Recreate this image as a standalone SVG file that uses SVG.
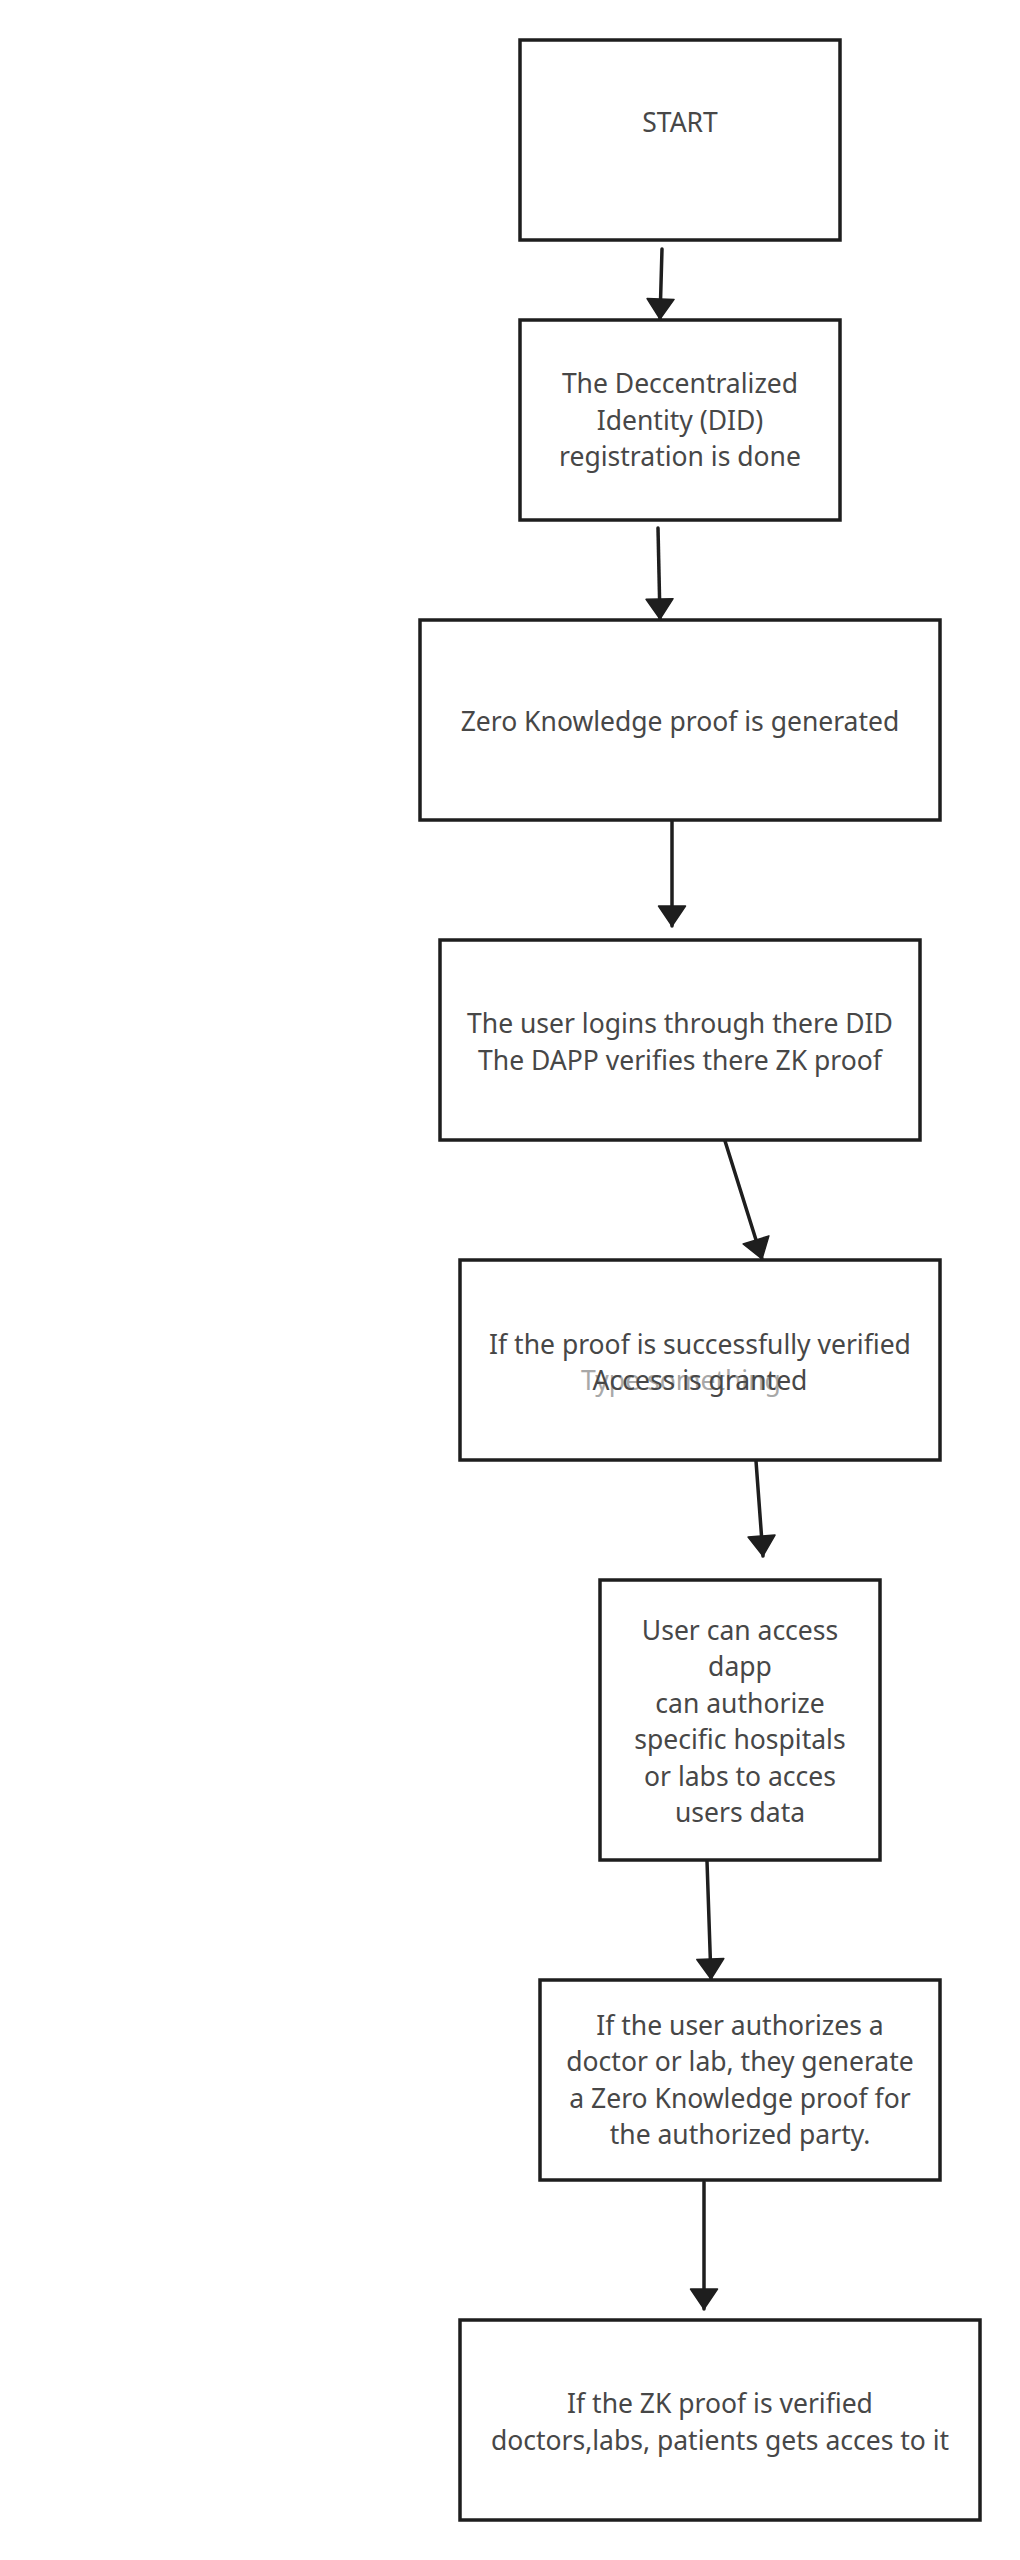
<svg xmlns="http://www.w3.org/2000/svg" width="1020" height="2560" viewBox="0 0 1020 2560">
<style>
.box{fill:#ffffff;stroke:#1e1e1e;stroke-width:3.5}
.t{font-family:"Noto Sans","Open Sans","DejaVu Sans",sans-serif;font-size:26.5px;fill:#474747;text-anchor:middle}
.ghost{fill:#a8a8a8}
.con{fill:none;stroke:#1e1e1e;stroke-width:3.5;stroke-linecap:round}
</style>
<defs>
<marker id="arr" markerUnits="userSpaceOnUse" markerWidth="32" markerHeight="32" refX="20" refY="0" viewBox="-2 -16 24 32" orient="auto" overflow="visible">
<path d="M0,-13.5 L20,0 L0,13.5 Z" fill="#1e1e1e" stroke="#1e1e1e" stroke-width="1.5" stroke-linejoin="round"/>
</marker>
</defs>
<rect width="1020" height="2560" fill="#ffffff"/>
<g id="connectors">
<path class="con" d="M662,249 L660,319" marker-end="url(#arr)"/>
<path class="con" d="M658,528 L660,619" marker-end="url(#arr)"/>
<path class="con" d="M672,821 L672,926" marker-end="url(#arr)"/>
<path class="con" d="M725,1141 L762,1259" marker-end="url(#arr)"/>
<path class="con" d="M756,1461 L763,1556" marker-end="url(#arr)"/>
<path class="con" d="M707,1861 L711,1979" marker-end="url(#arr)"/>
<path class="con" d="M704,2182 L704,2309" marker-end="url(#arr)"/>
</g>
<g id="n1">
<rect class="box" x="520" y="40" width="320" height="200"/>
<text class="t" x="680" y="132">START</text>
</g>
<g id="n2">
<rect class="box" x="520" y="320" width="320" height="200"/>
<text class="t" x="680" y="393">The Deccentralized</text>
<text class="t" x="680" y="430">Identity (DID)</text>
<text class="t" x="680" y="466">registration is done</text>
</g>
<g id="n3">
<rect class="box" x="420" y="620" width="520" height="200"/>
<text class="t" x="680" y="731">Zero Knowledge proof is generated</text>
</g>
<g id="n4">
<rect class="box" x="440" y="940" width="480" height="200"/>
<text class="t" x="680" y="1033">The user logins through there DID</text>
<text class="t" x="680" y="1070">The DAPP verifies there ZK proof</text>
</g>
<g id="n5">
<rect class="box" x="460" y="1260" width="480" height="200"/>
<text class="t" x="700" y="1354">If the proof is successfully verified</text>
<text class="t ghost" x="681" y="1390">Type something</text>
<text class="t" x="700" y="1390">Access is granted</text>
</g>
<g id="n6">
<rect class="box" x="600" y="1580" width="280" height="280"/>
<text class="t" x="740" y="1640">User can access</text>
<text class="t" x="740" y="1676">dapp</text>
<text class="t" x="740" y="1713">can authorize</text>
<text class="t" x="740" y="1749">specific hospitals</text>
<text class="t" x="740" y="1786">or labs to acces</text>
<text class="t" x="740" y="1822">users data</text>
</g>
<g id="n7">
<rect class="box" x="540" y="1980" width="400" height="200"/>
<text class="t" x="740" y="2035">If the user authorizes a</text>
<text class="t" x="740" y="2071">doctor or lab, they generate</text>
<text class="t" x="740" y="2108">a Zero Knowledge proof for</text>
<text class="t" x="740" y="2144">the authorized party.</text>
</g>
<g id="n8">
<rect class="box" x="460" y="2320" width="520" height="200"/>
<text class="t" x="720" y="2413">If the ZK proof is verified</text>
<text class="t" x="720" y="2450">doctors,labs, patients gets acces to it</text>
</g>
</svg>
